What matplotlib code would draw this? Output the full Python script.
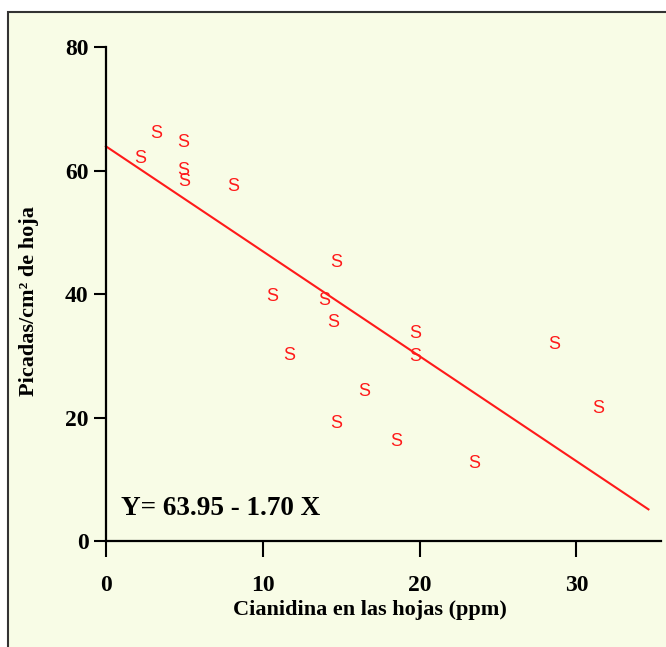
import matplotlib
matplotlib.use("Agg")
from matplotlib import pyplot as plt
from matplotlib.patches import Rectangle

# values
cianidina = [3.2, 4.9, 2.2, 4.9, 5.0, 8.1, 14.7, 10.6, 13.9, 14.5,
             19.7, 11.7, 19.7, 16.5, 14.7, 18.5, 23.5, 28.6, 31.4]
picadas = [66.1, 64.6, 61.9, 60.1, 58.2, 57.5, 45.1, 39.6, 38.9, 35.4,
           33.7, 30.1, 29.9, 24.2, 19.1, 16.2, 12.5, 31.9, 21.5]
intercepto = 63.95
pendiente = -1.70
recta_x = [0, 34.6]
xticks = [0, 10, 20, 30]
yticks = [0, 20, 40, 60, 80]

serif = 'Liberation Serif'
rojo = '#FF1A1A'

fig = plt.figure(figsize=(6.66, 6.47), dpi=100, facecolor='white')
# cream panel with a dark frame on top and left
fig.patches.append(Rectangle((8 / 666, -0.02), 1.05, 1 - 12 / 647 + 0.02,
                             transform=fig.transFigure, facecolor='#F8FCE6',
                             edgecolor='#333333', linewidth=1.5, zorder=-5))

ax = fig.add_axes([0.159, 0.1638, 0.8335, 0.7632])
ax.set_facecolor('none')
ax.set_xlim(0, 35.4)
ax.set_ylim(0, 80)
for s in ['top', 'right']:
    ax.spines[s].set_visible(False)
for s in ['left', 'bottom']:
    ax.spines[s].set_linewidth(1.6)
    ax.spines[s].set_color('black')

ax.set_xticks(xticks)
ax.set_yticks(yticks)
ax.tick_params(axis='x', direction='out', length=11.5, width=1.5, pad=13)
ax.tick_params(axis='y', direction='out', length=8.5, width=1.5, pad=4)
for lab in ax.get_xticklabels() + ax.get_yticklabels():
    lab.set_fontfamily(serif)
    lab.set_fontweight('bold')
    lab.set_fontsize(17)

# regression line
recta_y = [intercepto + pendiente * x for x in recta_x]
ax.plot(recta_x, recta_y, color=rojo, linewidth=1.5, clip_on=False)

# points drawn as the letter S
for x, y in zip(cianidina, picadas):
    ax.text(x, y, 'S', color=rojo, fontsize=13, family='Liberation Sans',
            ha='center', va='center')

ax.text(0.95, 5.3, 'Y= 63.95 - 1.70 X', fontsize=19.5, family=serif,
        fontweight='bold', ha='left', va='center')

ax.text(0.476, -0.14, 'Cianidina en las hojas (ppm)', transform=ax.transAxes,
        fontsize=16, family=serif, fontweight='bold', ha='center', va='center')
ax.text(-0.139, 0.485, 'Picadas/cm² de hoja', transform=ax.transAxes,
        rotation=90, fontsize=16, family=serif, fontweight='bold',
        ha='center', va='center')

fig.savefig('out.png', dpi=100)
